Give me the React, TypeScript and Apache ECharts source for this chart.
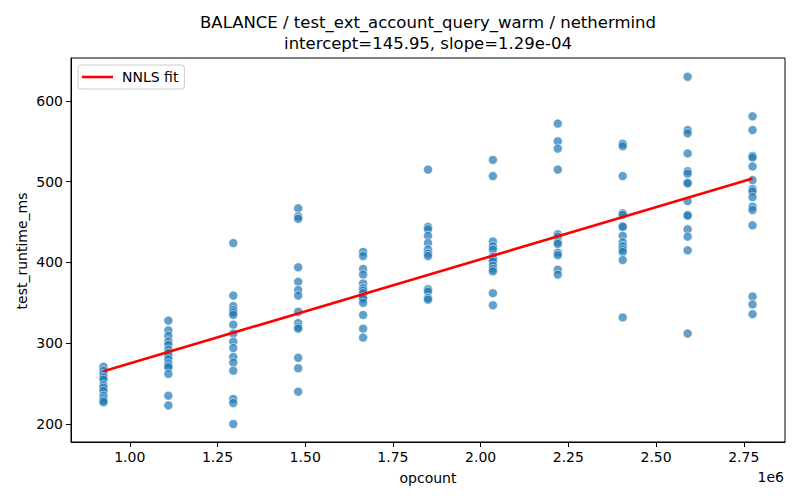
import React, { useEffect, useRef } from "react";
import * as echarts from "echarts";

const opcounts = [925000, 1110000, 1295000, 1480000, 1665000, 1850000, 2035000, 2220000, 2405000, 2590000, 2775000];

const runtimes: number[][] = [
  [271, 266, 262, 258, 255, 248, 245, 241, 235, 232, 229, 227],
  [328, 316, 309, 302, 298, 292, 288, 284, 280, 275, 272, 270, 262, 235, 223],
  [424, 359, 346, 341, 338, 335, 323, 312, 302, 294, 283, 276, 266, 231, 226, 200],
  [467, 457, 454, 394, 376, 366, 359, 339, 325, 320, 318, 282, 269, 240],
  [413, 408, 392, 385, 374, 368, 365, 362, 357, 355, 350, 335, 318, 307],
  [515, 444, 441, 433, 424, 416, 411, 408, 367, 364, 356, 354],
  [527, 507, 426, 420, 416, 407, 404, 401, 396, 392, 389, 362, 347],
  [572, 550, 541, 515, 435, 432, 425, 423, 412, 409, 391, 385],
  [547, 544, 507, 461, 459, 445, 444, 433, 425, 420, 416, 413, 403, 332],
  [630, 564, 560, 535, 513, 510, 499, 498, 476, 459, 458, 441, 432, 415, 312],
  [581, 564, 532, 530, 519, 502, 491, 488, 481, 469, 465, 446, 358, 348, 336],
];

const fitX = [925000, 2775000];
const fitY = [265.3, 503.9];

const xTicks = [1000000, 1250000, 1500000, 1750000, 2000000, 2250000, 2500000, 2750000];
const yTicks = [200, 300, 400, 500, 600];

const titleLine1 = "BALANCE / test_ext_account_query_warm / nethermind";
const titleLine2 = "intercept=145.95, slope=1.29e-04";
const yName = "test_runtime_ms";

const FONT = "DejaVu Sans";

export default function App() {
  const ref = useRef<HTMLDivElement>(null);
  useEffect(() => {
    if (!ref.current) return;
    const chart = echarts.init(ref.current, undefined, { renderer: "svg" });
    const points: number[][] = [];
    opcounts.forEach((x, i) => runtimes[i].forEach((y) => points.push([x, y])));
    const fitData = fitX.map((x, i) => [x, fitY[i]]);
    chart.setOption({
      animation: false,
      backgroundColor: "#fff",
      textStyle: { fontFamily: FONT },
      grid: {
        left: 71,
        right: 15,
        top: 58,
        bottom: 58,
        show: true,
        borderColor: "#000",
        borderWidth: 1,
        backgroundColor: "transparent",
      },
      xAxis: {
        type: "value",
        min: 832500,
        max: 2867500,
        name: "opcount",
        nameLocation: "middle",
        nameGap: 29,
        nameTextStyle: { fontSize: 14, color: "#000", fontFamily: FONT },
        splitLine: { show: false },
        axisLine: { show: true, lineStyle: { color: "#000", width: 1 } },
        axisTick: { show: true, length: 5, customValues: xTicks, lineStyle: { color: "#000" } },
        axisLabel: {
          customValues: xTicks,
          formatter: (v: number) => (v / 1e6).toFixed(2),
          fontSize: 14,
          color: "#000",
          margin: 8,
          fontFamily: FONT,
        },
      },
      yAxis: {
        type: "value",
        min: 177.7,
        max: 653.2,
        splitLine: { show: false },
        axisLine: { show: true, lineStyle: { color: "#000", width: 1 } },
        axisTick: { show: true, length: 5, customValues: yTicks, lineStyle: { color: "#000" } },
        axisLabel: {
          customValues: yTicks,
          fontSize: 14,
          color: "#000",
          margin: 8,
          fontFamily: FONT,
        },
      },
      legend: {
        data: [{ name: "NNLS fit", icon: "rect" }],
        left: 78,
        top: 65,
        orient: "vertical",
        padding: [5, 6, 5, 4],
        itemWidth: 31,
        itemHeight: 2.6,
        itemGap: 4,
        backgroundColor: "rgba(255,255,255,0.8)",
        borderColor: "#cccccc",
        borderWidth: 1,
        borderRadius: 3,
        textStyle: { fontSize: 14, color: "#000", fontFamily: FONT, padding: [0, 0, 0, 4] },
      },
      series: [
        {
          type: "scatter",
          name: "data",
          data: points,
          symbolSize: 9,
          itemStyle: {
            color: "#1f77b4",
            opacity: 0.7,
            borderColor: "#ffffff",
            borderWidth: 0.8,
          },
          z: 2,
        },
        {
          type: "line",
          name: "NNLS fit",
          data: fitData,
          symbol: "none",
          lineStyle: { color: "#ff0000", width: 2.6 },
          itemStyle: { color: "#ff0000" },
          z: 3,
        },
      ],
      graphic: [
        {
          type: "text",
          x: 428,
          y: 22,
          style: { text: titleLine1, fontSize: 16.5, fontFamily: FONT, fill: "#000", textAlign: "center", textVerticalAlign: "middle" },
        },
        {
          type: "text",
          x: 428,
          y: 43,
          style: { text: titleLine2, fontSize: 16.5, fontFamily: FONT, fill: "#000", textAlign: "center", textVerticalAlign: "middle" },
        },
        {
          type: "text",
          x: 22,
          y: 251,
          rotation: Math.PI / 2,
          style: { text: yName, fontSize: 14, fontFamily: FONT, fill: "#000", textAlign: "center", textVerticalAlign: "middle" },
        },
        {
          type: "text",
          x: 784,
          y: 477,
          style: { text: "1e6", fontSize: 14, fontFamily: FONT, fill: "#000", textAlign: "right", textVerticalAlign: "middle" },
        },
      ],
    });
    return () => chart.dispose();
  }, []);
  return <div ref={ref} style={{ width: 800, height: 500, position: "absolute", left: 0, top: 0 }} />;
}
